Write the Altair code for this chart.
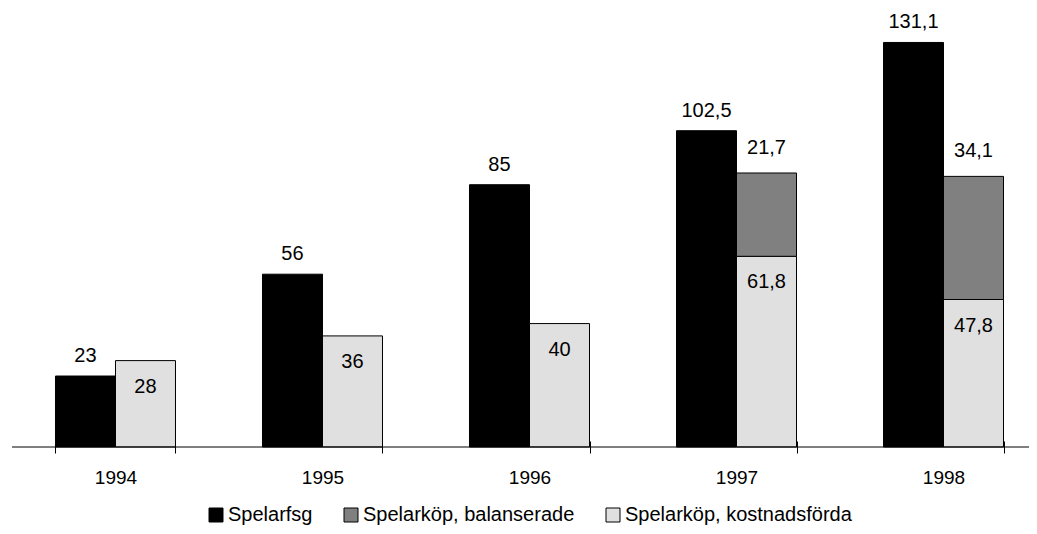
import altair as alt
import pandas as pd

years = ["1994", "1995", "1996", "1997", "1998"]
spelarfsg = [23, 56, 85, 102.5, 131.1]
kostnadsforda = [28, 36, 40, 61.8, 47.8]
balanserade_label = [None, None, None, 21.7, 34.1]
# height of the dark segment as drawn in the picture
balanserade_drawn = [None, None, None, 27.0, 39.9]

series = ["Spelarfsg", "Spelarköp, balanserade", "Spelarköp, kostnadsförda"]
colors = ["#000000", "#808080", "#e0e0e0"]


def fmt(v):
    s = ("%g" % v)
    return s.replace(".", ",")


bars = []
texts = []
for i, y in enumerate(years):
    bars.append(dict(year=y, col="A", series=series[0], bottom=0, top=spelarfsg[i]))
    texts.append(dict(year=y, col="A", kind="above", pos=spelarfsg[i], label=fmt(spelarfsg[i])))
    bars.append(dict(year=y, col="B", series=series[2], bottom=0, top=kostnadsforda[i]))
    texts.append(dict(year=y, col="B", kind="inside", pos=kostnadsforda[i], label=fmt(kostnadsforda[i])))
    if balanserade_drawn[i] is not None:
        t = kostnadsforda[i] + balanserade_drawn[i]
        bars.append(dict(year=y, col="B", series=series[1], bottom=kostnadsforda[i], top=t))
        texts.append(dict(year=y, col="B", kind="stack", pos=t, label=fmt(balanserade_label[i])))

bdf = pd.DataFrame(bars)
tdf = pd.DataFrame(texts)

FONT = "Liberation Sans"

xenc = alt.X(
    "year:N",
    scale=alt.Scale(domain=years, range=[0, 1035], paddingInner=0.4203, paddingOuter=0.2101),
    axis=alt.Axis(
        title=None, labelAngle=0, labelFontSize=19, labelFont=FONT, labelColor="black",
        domain=False, tickColor="black", tickSize=12, tickWidth=1, offset=-6,
        tickBand="extent", labelPadding=15,
    ),
)
xoff = alt.XOffset("col:N", scale=alt.Scale(domain=["A", "B"], paddingInner=0, paddingOuter=0))
yscale = alt.Scale(domain=[0, 140], nice=False, zero=True)

bar_layer = alt.Chart(bdf).mark_bar(stroke="black", strokeWidth=1).encode(
    x=xenc,
    xOffset=xoff,
    y=alt.Y("top:Q", scale=yscale, axis=None),
    y2="bottom:Q",
    color=alt.Color(
        "series:N",
        scale=alt.Scale(domain=series, range=colors),
        legend=alt.Legend(
            orient="none", legendX=194, legendY=490, direction="horizontal", title=None,
            symbolType="square", symbolSize=196, labelFontSize=20, labelFont=FONT,
            labelColor="black", columnPadding=28, labelOffset=2, labelLimit=0,
            symbolStrokeColor="black", symbolStrokeWidth=1, padding=0,
        ),
    ),
)

axis_line = alt.Chart(pd.DataFrame({"v": [0]})).mark_rule(color="black", strokeWidth=1).encode(
    y=alt.Y("v:Q", scale=yscale)
)


def text_layer(kind, dy):
    return alt.Chart(tdf).transform_filter(alt.datum.kind == kind).mark_text(
        font=FONT, fontSize=20, color="black", dy=dy, baseline="alphabetic"
    ).encode(
        x=xenc,
        xOffset=xoff,
        y=alt.Y("pos:Q", scale=yscale),
        text="label:N",
    )


chart = alt.layer(
    bar_layer,
    axis_line,
    text_layer("above", -14),
    text_layer("inside", 32),
    text_layer("stack", -19),
).properties(
    width=1017, height=432,
    autosize=alt.AutoSizeParams(type="none"),
    padding={"left": 4, "top": 7, "right": 0, "bottom": 79},
).configure_view(stroke=None)

chart.save("out.html", embed_options={"renderer": "svg", "actions": False})
